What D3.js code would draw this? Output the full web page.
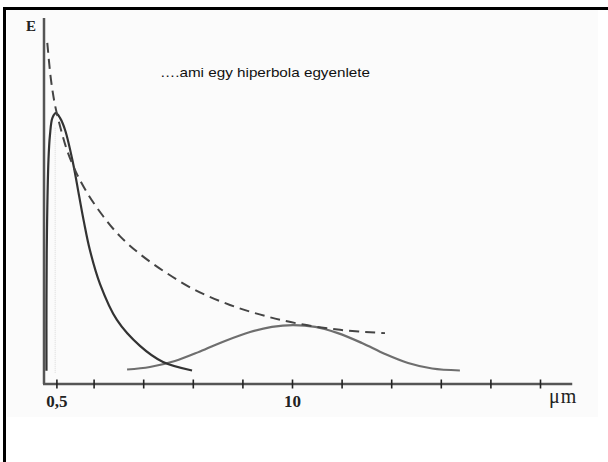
<!DOCTYPE html>
<html>
<head>
<meta charset="utf-8">
<script src="https://cdn.jsdelivr.net/npm/d3@7"></script>
<style>
  body { margin: 0; background: #fff; }
  svg { display: block; }
</style>
</head>
<body>
<script>
// x ticks (wavelength, µm) and the two labelled ones
const xTicks = [0.5, 2, 4, 6, 8, 10, 12, 14, 16, 18, 20]
const xTickLabels = { 0.5: "0,5", 10: "10" }

// dashed hyperbola through the peaks
const hypWl = [0.133, 0.282, 0.444, 0.645, 0.927, 1.29, 1.77, 2.38, 3.06, 3.87, 4.88, 6.09, 7.5, 8.91, 10.32, 11.94, 13.75]
const hypE  = [93.2, 83.1, 76.2, 70.5, 63.9, 57.9, 51.9, 45.9, 40.4, 35.5, 30.6, 25.7, 21.6, 18.6, 16.4, 14.8, 13.9]

// hot body curve (sharp peak near 0,5 µm)
const hotWl = [0.1, 0.1, 0.12, 0.18, 0.24, 0.34, 0.48, 0.645, 0.85, 1.17, 1.41, 1.61, 1.85, 2.26, 2.94, 3.87, 4.8, 5.97]
const hotE  = [3.6, 23.0, 42.1, 61.2, 68.0, 72.7, 74.0, 72.7, 69.4, 60.4, 51.6, 44.3, 36.6, 27.3, 17.5, 10.4, 6.0, 3.7]

// cool body curve (broad peak near 10 µm)
const coolWl = [3.35, 4.27, 5.28, 6.29, 7.3, 8.31, 9.19, 10.04, 10.94, 11.85, 12.82, 13.75, 14.68, 15.65, 16.77]
const coolE  = [3.96, 4.64, 6.28, 8.88, 11.75, 14.2, 15.6, 16.1, 15.6, 13.9, 11.2, 8.2, 5.74, 4.23, 3.69]

const W = 608, H = 462

let svg = d3.select("body")
            .append("svg")
            .attr("width", W)
            .attr("height", H)

const x = d3.scaleLinear().domain([0, 10]).range([44, 292])
const y = d3.scaleLinear().domain([0, 100]).range([384, 18])

// faint picture background + frame (top and left only)
svg.append("rect")
   .attr("x", 7).attr("y", 10)
   .attr("width", 591).attr("height", 407)
   .attr("fill", "#fbfbfb")

svg.append("line")
   .attr("x1", 3).attr("x2", W)
   .attr("y1", 8.5).attr("y2", 8.5)
   .attr("stroke", "#000").attr("stroke-width", 3)
svg.append("line")
   .attr("x1", 4.5).attr("x2", 4.5)
   .attr("y1", 7).attr("y2", H)
   .attr("stroke", "#000").attr("stroke-width", 3)

// y axis (no ticks)
svg.append("line")
   .attr("x1", x(0)).attr("x2", x(0))
   .attr("y1", y(100)).attr("y2", y(0))
   .attr("stroke", "#555").attr("stroke-width", 2.5)

svg.append("text")
   .attr("x", 26).attr("y", 31)
   .attr("font-family", "Liberation Serif, serif")
   .attr("font-weight", "bold")
   .attr("font-size", 15)
   .attr("fill", "#222")
   .text("E")

// x axis
svg.append("line")
   .attr("x1", x(-0.04)).attr("x2", x(21.3))
   .attr("y1", y(0)).attr("y2", y(0))
   .attr("stroke", "#555").attr("stroke-width", 2.5)

const gx = svg.append("g")
              .attr("transform", `translate(0,${y(0)})`)
              .call(d3.axisBottom(x)
                      .tickValues(xTicks)
                      .tickSize(4.5)
                      .tickFormat(d => xTickLabels[d] || ""))
gx.select(".domain").remove()
gx.selectAll(".tick line")
  .attr("y1", -4.5).attr("y2", 4.5)
  .attr("stroke", "#222").attr("stroke-width", 1.6)
gx.selectAll(".tick text")
  .attr("y", 23).attr("dy", null)
  .attr("font-family", "Liberation Serif, serif")
  .attr("font-weight", "bold")
  .attr("font-size", 17)
  .attr("fill", "#222")

svg.append("text")
   .attr("x", 549).attr("y", 403)
   .attr("font-family", "Liberation Serif, serif")
   .attr("font-size", 20)
   .attr("letter-spacing", 1)
   .attr("fill", "#222")
   .text("μm")

const line = d3.line()
               .x(d => x(d[0]))
               .y(d => y(d[1]))
               .curve(d3.curveCatmullRom.alpha(0.5))

// faint dotted marker under the hot peak
svg.append("line")
   .attr("x1", x(0.45)).attr("x2", x(0.45))
   .attr("y1", y(70)).attr("y2", y(3))
   .attr("stroke", "#d8d8d8").attr("stroke-width", 1)
   .attr("stroke-dasharray", "1,1")

svg.append("path")
   .datum(d3.zip(coolWl, coolE))
   .attr("d", line)
   .attr("fill", "none")
   .attr("stroke", "#6e6e6e")
   .attr("stroke-width", 2.2)

svg.append("path")
   .datum(d3.zip(hotWl, hotE))
   .attr("d", line)
   .attr("fill", "none")
   .attr("stroke", "#333")
   .attr("stroke-width", 2.2)

svg.append("path")
   .datum(d3.zip(hypWl, hypE))
   .attr("d", line)
   .attr("fill", "none")
   .attr("stroke", "#444")
   .attr("stroke-width", 2)
   .attr("stroke-dasharray", "10,6")

svg.append("text")
   .attr("x", 160).attr("y", 77)
   .attr("font-family", "Liberation Sans, Arial, sans-serif")
   .attr("font-size", 13)
   .attr("textLength", 210)
   .attr("lengthAdjust", "spacingAndGlyphs")
   .attr("fill", "#111")
   .text("….ami egy hiperbola egyenlete")
</script>
</body>
</html>
